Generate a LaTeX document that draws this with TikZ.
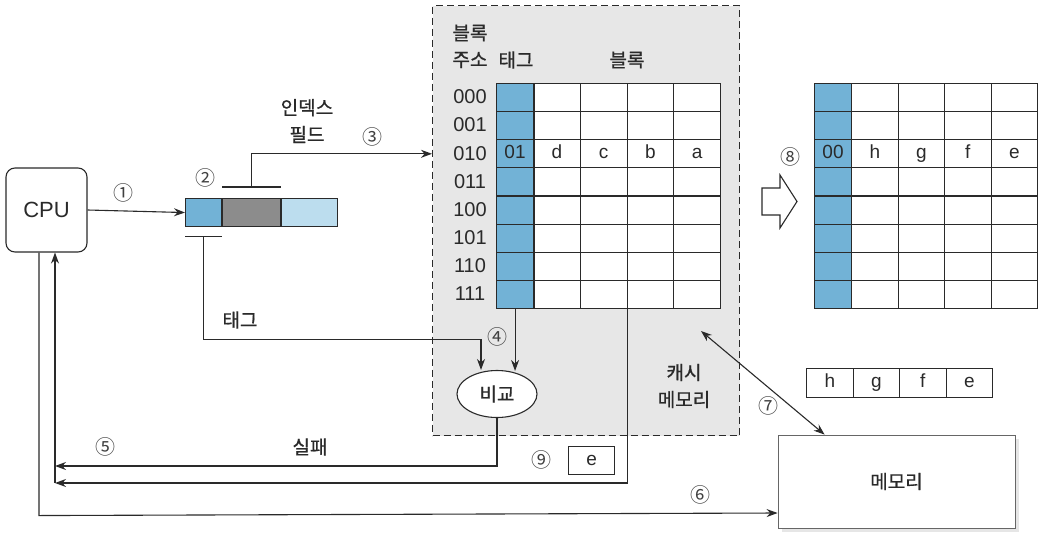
\documentclass[tikz,border=0pt]{standalone}
\usepackage{fontspec}
\setmainfont{Liberation Sans}
\newfontfamily\korfont{Noto Sans CJK KR}[FakeBold=0.8]
\newfontfamily\cjkfont{Noto Sans CJK KR}
\usetikzlibrary{arrows.meta,positioning,shapes.geometric,shadows}
\definecolor{tagblue}{HTML}{72B2D6}
\definecolor{idxgray}{HTML}{8C8C8C}
\definecolor{offblue}{HTML}{BCDDEE}
\definecolor{cachegray}{HTML}{E7E7E7}
\definecolor{ink}{HTML}{2A2A2A}

\begin{document}
\begin{tikzpicture}[x=1pt, y=-1pt,
  font=\fontsize{19}{21}\selectfont, color=ink, line width=1.1pt,
  cell/.style={draw, fill=white, anchor=north west, inner sep=0pt, minimum width=46.75pt, minimum height=28.1pt},
  tagcell/.style={cell, fill=tagblue, minimum width=37pt},
  regcell/.style={draw, anchor=north west, inner sep=0pt, minimum height=28pt, text height=13pt, text depth=4pt},
  val/.style={inner sep=0pt, text height=13pt, text depth=4pt},
  kor/.style={font=\korfont\fontsize{19}{27}\selectfont, align=center},
  num/.style={font=\cjkfont\fontsize{20}{20}\selectfont, text=black!75},
  arr/.style={-{Stealth[length=11pt, width=8pt]}}
]
\useasboundingbox (0,0) rectangle (1044,536);

% cache memory area
\node[draw, dash pattern=on 7pt off 4pt, fill=cachegray, anchor=north west, minimum width=307pt, minimum height=430pt] (cache) at (432,5) {};
\node[kor] (hdaddr) at (470,33) {블록};
\node[kor] (hdaddr2) at (470,60) {주소};
\node[kor] (hdtag) at (516,60) {태그};
\node[kor] (hdblk) at (627,60) {블록};

% cache lines
\foreach \r [count=\i from 0] in {000,001,010,011,100,101,110,111} {
  \node[font=\fontsize{20}{20}\selectfont] (ad\i) at (470,{97+28.1*\i}) {\r};
  \node[tagcell] (lt\i) at (496,{83+28.1*\i}) {};
  \foreach \c in {1,...,4}
    \node[cell] (l\i-\c) at ({533+46.75*(\c-1)},{83+28.1*\i}) {};
}
\draw[line width=2pt] (lt0.north east) -- (lt7.south east);
\node[val] (ltag) at (lt2) {01};
\node[val] (ld) at (l2-1) {d};
\node[val] (lc) at (l2-2) {c};
\node[val] (lb) at (l2-3) {b};
\node[val] (la) at (l2-4) {a};

% cache after replacement
\foreach \i in {0,...,7} {
  \node[tagcell] (rt\i) at (814,{83+28.1*\i}) {};
  \foreach \c in {1,...,4}
    \node[cell, minimum width=46.5pt] (r\i-\c) at ({851+46.5*(\c-1)},{83+28.1*\i}) {};
}
\node[val] (rtag) at (rt2) {00};
\node[val] (rh) at (r2-1) {h};
\node[val] (rg) at (r2-2) {g};
\node[val] (rf) at (r2-3) {f};
\node[val] (re) at (r2-4) {e};
\draw[fill=white] (762,188) -- (780,188) -- (780,175) -- (797,201.5) -- (780,228) -- (780,215) -- (762,215) -- cycle;

% CPU and address register
\node[draw, rounded corners=9pt, minimum width=81pt, minimum height=84pt, font=\fontsize{22}{22}\selectfont] (cpu) at (46.5,210) {CPU};
\node[regcell, fill=tagblue, minimum width=36pt] (reg1) at (185,198) {};
\node[regcell, fill=idxgray, minimum width=58pt, right=0pt of reg1] (reg2) {};
\node[regcell, fill=offblue, minimum width=56pt, right=0pt of reg2] (reg3) {};
\draw ([yshift=11pt]reg2.north west) -- ([yshift=11pt]reg2.north east);
\draw ([yshift=-9pt]reg1.south west) -- ([yshift=-9pt]reg1.south east);

\node[draw, ellipse, fill=white, minimum width=80pt, minimum height=47pt, kor] (cmp) at (497,394) {비교};

% memory
\node[draw=black!60, line width=0.8pt, fill=white, drop shadow={opacity=0.2, shadow xshift=4pt, shadow yshift=-4pt}, minimum width=237pt, minimum height=93pt, kor] (mem) at (896.5,481.5) {메모리};
\foreach \ch [count=\k from 0] in {h,g,f,e}
  \node[regcell, minimum width=46.5pt, minimum height=29pt] (m\k) at ({806+46.5*\k},368) {\ch};
\node[regcell, minimum width=46pt, minimum height=28pt] (eout) at (568,446) {e};

% connectors
\coordinate (miss) at (55,466);
\coordinate (ret) at (55,483);
\coordinate (upd) at (701,331);
\draw[arr] (cpu.east) -- (reg1.west);
\draw[arr] ([yshift=11pt]reg2.north) |- (cache.west |- lt2);
\draw[arr] ([yshift=-9pt]reg1.south) -- ++(0,103) -| ([xshift=-16pt]cmp.north);
\draw[arr] (lt7.south) -- ([yshift=-1pt]lt7.south |- cmp.north);
\draw[arr] (cmp.south) |- (miss);
\draw[arr] (l7-2.south east) |- (ret);
\draw[arr] (ret) -- (ret |- cpu.south);
\draw[arr] ([xshift=-7.5pt]cpu.south) -- ++(0,263) -- ([yshift=-31.5pt]mem.west);
\draw[{Stealth[length=11pt, width=8pt]}-{Stealth[length=11pt, width=8pt]}] (upd) -- ([xshift=47pt]mem.north west);

% labels
\node[kor] (lidx) at (307,121) {인덱스\\필드};
\node[kor] (ltg) at (240,320) {태그};
\node[kor] (lmiss) at (310,447) {실패};
\node[kor] (lcache) at (684,386) {캐시\\메모리};
\node[num] (n1) at (123,193) {①};
\node[num] (n2) at (205,178) {②};
\node[num] (n3) at (372,137) {③};
\node[num] (n4) at (497,337) {④};
\node[num] (n5) at (105,447) {⑤};
\node[num] (n6) at (700,495) {⑥};
\node[num] (n7) at (768,406) {⑦};
\node[num] (n8) at (790,157) {⑧};
\node[num] (n9) at (541,460) {⑨};
\end{tikzpicture}
\end{document}
